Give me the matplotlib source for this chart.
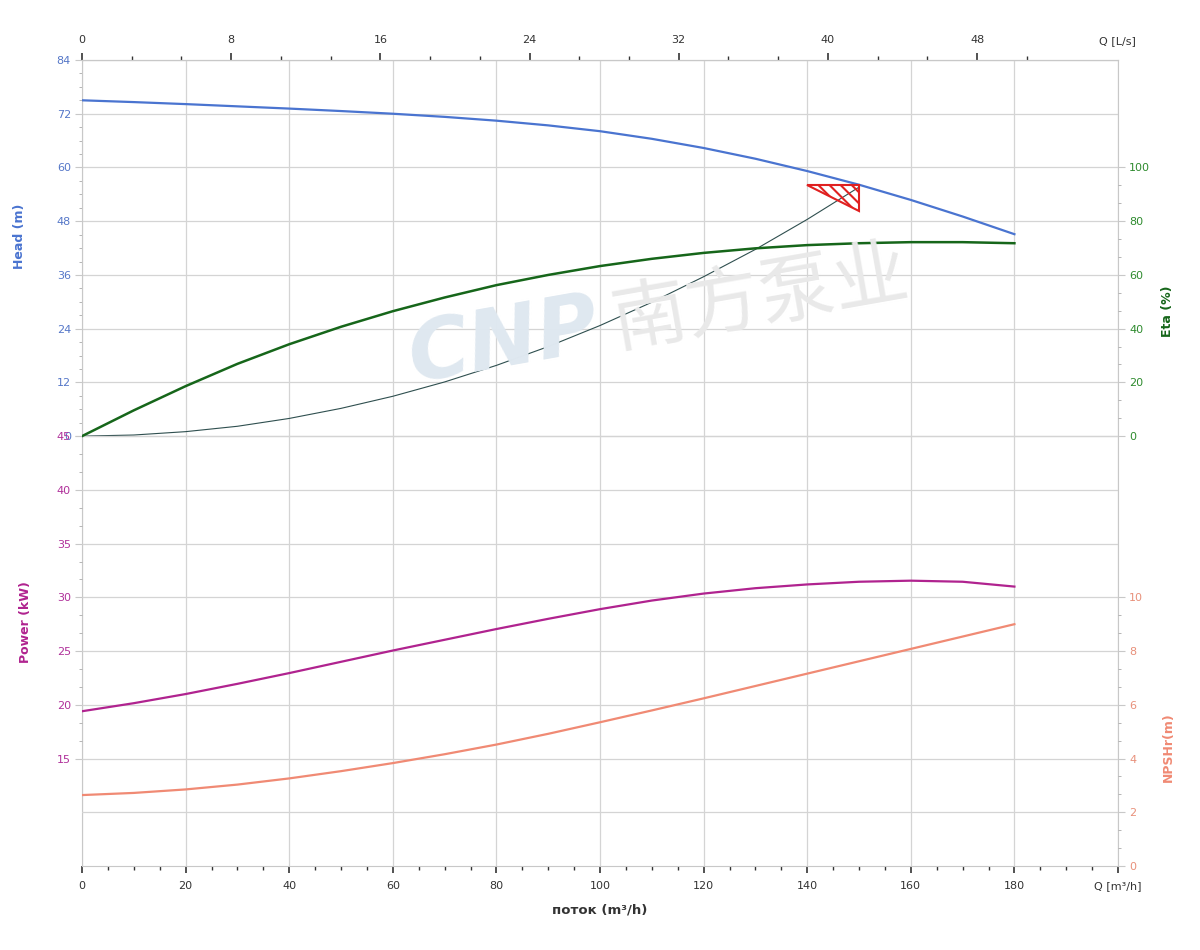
import numpy as np
import matplotlib
matplotlib.use("Agg")
import matplotlib.pyplot as plt
from matplotlib.ticker import FixedLocator, FuncFormatter
from matplotlib.patches import Polygon

# ---------------- data ----------------
q = [0, 10, 20, 30, 40, 50, 60, 70, 80, 90, 100, 110, 120, 130, 140, 150, 160, 170, 180]
head = [75.0, 74.6, 74.15, 73.65, 73.15, 72.6, 72.0, 71.3, 70.45, 69.4, 68.1, 66.4, 64.35,
        61.95, 59.2, 56.15, 52.75, 49.05, 45.1]
eta = [0, 9.6, 18.6, 26.9, 34.2, 40.7, 46.5, 51.6, 56.2, 60.0, 63.3, 66.0, 68.2,
       69.9, 71.1, 71.8, 72.2, 72.2, 71.8]
power = [19.4, 20.15, 21.0, 21.95, 22.95, 24.0, 25.05, 26.05, 27.05, 28.0, 28.9, 29.7, 30.35,
         30.85, 31.2, 31.45, 31.55, 31.45, 31.0]
npshr = [2.64, 2.72, 2.85, 3.03, 3.26, 3.53, 3.83, 4.16, 4.52, 4.92, 5.35, 5.79, 6.24,
         6.70, 7.16, 7.62, 8.08, 8.54, 9.0]
q_sys = [0, 10, 20, 30, 40, 50, 60, 70, 80, 90, 100, 110, 120, 130, 140, 150]
h_sys = [0, 0.25, 1.0, 2.2, 3.95, 6.2, 8.9, 12.1, 15.8, 20.0, 24.7, 29.9, 35.6, 41.7, 48.4, 55.6]
duty_tri_q = [140, 150, 150]
duty_tri_h = [56.05, 56.05, 50.25]

head_ticks = [0, 12, 24, 36, 48, 60, 72, 84]
power_ticks = [15, 20, 25, 30, 35, 40, 45]
eta_ticks = [0, 20, 40, 60, 80, 100]
npsh_ticks = [0, 2, 4, 6, 8, 10]
q_ticks = [0, 20, 40, 60, 80, 100, 120, 140, 160, 180, 200]
ls_ticks = [0, 8, 16, 24, 32, 40, 48]

# ---------------- style ----------------
C_HEAD = "#4a74d0"
C_HEAD_T = "#5577c8"
C_ETA = "#16661a"
C_ETA_T = "#2e8b2e"
C_POW = "#b0238f"
C_POW_T = "#b0309a"
C_NPSH = "#f08a74"
C_NPSH_T = "#e8907a"
C_SYS = "#2f4f4f"
C_GRID = "#d4d4d4"
C_SPINE = "#c8c8c8"
C_TXT = "#333333"
FS = 8

plt.rcParams["font.family"] = ["DejaVu Sans", "Noto Sans CJK SC"]
plt.rcParams["hatch.color"] = "#e02020"
plt.rcParams["hatch.linewidth"] = 1.5

fig = plt.figure(figsize=(12, 9.5), dpi=100)
rect = [82 / 1200, 1 - 866 / 950, 1036 / 1200, 806 / 950]
ax = fig.add_axes(rect)

# watermark
fig.text(0.505, 0.64, "CNP", fontsize=60, fontweight="bold", style="italic", color="#dfe8f0",
         rotation=10, ha="right", va="center", zorder=0, family=["DejaVu Sans"])
fig.text(0.505, 0.685, "南方泵业", fontsize=54, color="#e9e9e9",
         rotation=10, ha="left", va="center", zorder=0,
         family=["Noto Sans CJK SC", "DejaVu Sans"])
ax.patch.set_alpha(0)

# ---- head axis (base, owns grid) ----
ax.set_xlim(0, 200)
ax.set_ylim(-96, 84)
ax.set_yticks(head_ticks)
ax.yaxis.set_minor_locator(FixedLocator([v for v in np.arange(0, 84.1, 3) if v % 12 != 0]))
ax.tick_params(axis="y", which="major", colors=C_SPINE, labelcolor=C_HEAD_T, length=5,
               labelsize=FS, pad=3)
ax.tick_params(axis="y", which="minor", colors="#aaaaaa", length=2.5)
ax.set_xticks(q_ticks)
ax.xaxis.set_major_formatter(FuncFormatter(lambda v, p: "Q [m³/h]" if v >= 200 else f"{v:g}"))
ax.xaxis.set_minor_locator(FixedLocator([v for v in np.arange(0, 200.1, 5) if v % 20 != 0]))
ax.tick_params(axis="x", which="major", colors=C_TXT, labelcolor=C_TXT, length=5, width=1.2,
               labelsize=FS, pad=6)
ax.tick_params(axis="x", which="minor", colors=C_TXT, length=3, width=1.0)
ax.grid(True, which="major", color=C_GRID, linewidth=0.9)
ax.set_axisbelow(True)
for s in ax.spines.values():
    s.set_color(C_SPINE)
ax.plot(q, head, color=C_HEAD, lw=1.6, zorder=3)
ax.plot(q_sys, h_sys, color=C_SYS, lw=0.8, zorder=3)
tri = Polygon(np.column_stack([duty_tri_q, duty_tri_h]), closed=True, facecolor="none",
              edgecolor="#e02020", hatch="\\\\\\", lw=1.5, zorder=4)
ax.add_patch(tri)

# ---- top axis (L/s) ----
top = ax.secondary_xaxis("top", functions=(lambda v: v / 3.6, lambda v: v * 3.6))
top.set_xticks(ls_ticks)
top.xaxis.set_minor_locator(FixedLocator([v for v in np.arange(0, 51, 8 / 3) if abs(v / 8 - round(v / 8)) > 1e-6]))
top.tick_params(axis="x", which="major", colors=C_TXT, labelcolor=C_TXT, length=5, width=1.2,
                labelsize=FS, pad=6)
top.tick_params(axis="x", which="minor", colors=C_TXT, length=3, width=1.0)
top.spines["top"].set_color(C_SPINE)
fig.text(1117 / 1200, 1 - 41 / 950, "Q [L/s]", fontsize=FS, color=C_TXT, ha="center", va="center")

# ---- power axis (left) ----
axp = ax.twinx()
axp.set_ylim(5, 80)
axp.yaxis.tick_left()
axp.yaxis.set_label_position("left")
axp.set_yticks(power_ticks)
axp.yaxis.set_minor_locator(FixedLocator([v for v in np.arange(15, 45.01, 5 / 3) if abs(v / 5 - round(v / 5)) > 1e-6]))
axp.tick_params(axis="y", which="major", colors=C_SPINE, labelcolor=C_POW_T, length=5,
                labelsize=FS, pad=3)
axp.tick_params(axis="y", which="minor", colors="#aaaaaa", length=2.5)
axp.grid(True, axis="y", which="major", color=C_GRID, linewidth=0.9)
axp.axhline(10, color=C_GRID, linewidth=0.9, zorder=0)
axp.set_axisbelow(True)
for s in axp.spines.values():
    s.set_visible(False)
axp.plot(q, power, color=C_POW, lw=1.6, zorder=3)

# ---- eta axis (right) ----
axe = ax.twinx()
axe.set_ylim(-160, 140)
axe.set_yticks(eta_ticks)
axe.yaxis.set_minor_locator(FixedLocator([v for v in np.arange(0, 100.01, 20 / 3) if abs(v / 20 - round(v / 20)) > 1e-6]))
axe.tick_params(axis="y", which="major", colors=C_SPINE, labelcolor=C_ETA_T, length=5,
                labelsize=FS, pad=3)
axe.tick_params(axis="y", which="minor", colors="#aaaaaa", length=2.5)
for s in axe.spines.values():
    s.set_visible(False)
axe.plot(q, eta, color=C_ETA, lw=1.8, zorder=3)

# ---- npsh axis (right) ----
axn = ax.twinx()
axn.set_ylim(0, 30)
axn.set_yticks(npsh_ticks)
axn.yaxis.set_minor_locator(FixedLocator([v for v in np.arange(0, 10.01, 2 / 3) if abs(v / 2 - round(v / 2)) > 1e-6]))
axn.tick_params(axis="y", which="major", colors=C_SPINE, labelcolor=C_NPSH_T, length=5,
                labelsize=FS, pad=3)
axn.tick_params(axis="y", which="minor", colors="#aaaaaa", length=2.5)
for s in axn.spines.values():
    s.set_visible(False)
axn.plot(q, npshr, color=C_NPSH, lw=1.6, zorder=3)

# ---- axis titles ----
fig.text(20 / 1200, 1 - 236 / 950, "Head (m)", rotation=90, fontsize=9, fontweight="bold",
         color=C_HEAD, ha="center", va="center")
fig.text(26 / 1200, 1 - 622 / 950, "Power (kW)", rotation=90, fontsize=9, fontweight="bold",
         color=C_POW, ha="center", va="center")
fig.text(1168 / 1200, 1 - 311 / 950, "Eta (%)", rotation=90, fontsize=9, fontweight="bold",
         color=C_ETA, ha="center", va="center")
fig.text(1168 / 1200, 1 - 747 / 950, "NPSHr(m)", rotation=90, fontsize=9, fontweight="bold",
         color=C_NPSH, ha="center", va="center")
fig.text(600 / 1200, 1 - 910 / 950, "поток (m³/h)", fontsize=9.5, fontweight="bold",
         color=C_TXT, ha="center", va="center")

fig.savefig("out.png", dpi=100)
